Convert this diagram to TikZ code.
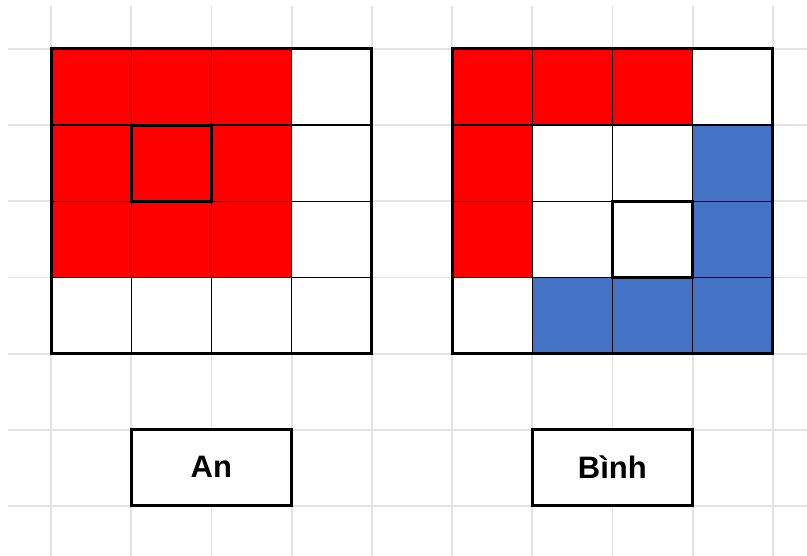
\documentclass[tikz,border=0pt]{standalone}
\usepackage{fontspec}
\setmainfont{Liberation Sans}
\definecolor{cred}{HTML}{FF0000}
\definecolor{cblue}{HTML}{4472C4}
\definecolor{gridgray}{HTML}{E3E3E3}
\begin{document}
\begin{tikzpicture}[x=1pt,y=-1pt,
  gridline/.style={draw=gridgray,line width=1.8pt},
  cellbox/.style={draw=black,line width=1.4pt},
  frame/.style={draw=black,line width=3pt},
  hilite/.style={draw=black,line width=3pt},
  namebox/.style={draw=black,line width=3pt,fill=white,minimum width=160pt,minimum height=76pt,inner sep=0pt,font=\bfseries\fontsize{31}{36}\selectfont}]
\useasboundingbox (0,0) rectangle (807,556);
\fill[white] (0,0) rectangle (807,556);
% background grid
\foreach \i in {0,...,9}{
  \draw[gridline] ({51+80.2*\i},6) -- ({51+80.2*\i},556);
}
\foreach \j in {0,...,6}{
  \draw[gridline] (8,{49+76.2*\j}) -- (807,{49+76.2*\j});
}
% left grid (An)
\foreach \c/\r/\col in {0/0/cred,1/0/cred,2/0/cred,3/0/white,
                        0/1/cred,1/1/cred,2/1/cred,3/1/white,
                        0/2/cred,1/2/cred,2/2/cred,3/2/white,
                        0/3/white,1/3/white,2/3/white,3/3/white}{
  \filldraw[cellbox,fill=\col] ({51+80.2*\c},{49+76.2*\r}) rectangle ++(80.2,76.2);
}
\draw[hilite] ({51+80.2},{49+76.2}) rectangle ++(80.2,76.2);
\draw[frame] (51,49) rectangle ({51+4*80.2},{49+4*76.2});
% right grid (Binh)
\foreach \c/\r/\col in {0/0/cred,1/0/cred,2/0/cred,3/0/white,
                        0/1/cred,1/1/white,2/1/white,3/1/cblue,
                        0/2/cred,1/2/white,2/2/white,3/2/cblue,
                        0/3/white,1/3/cblue,2/3/cblue,3/3/cblue}{
  \filldraw[cellbox,fill=\col] ({452+80.2*\c},{49+76.2*\r}) rectangle ++(80.2,76.2);
}
\draw[hilite] ({452+2*80.2},{49+2*76.2}) rectangle ++(80.2,76.2);
\draw[frame] (452,49) rectangle ({452+4*80.2},{49+4*76.2});
% labels
\node[namebox] (an) at (211.3,467.1) {An};
\node[namebox] (binh) at (612.4,467.1) {Bình};
\end{tikzpicture}
\end{document}
